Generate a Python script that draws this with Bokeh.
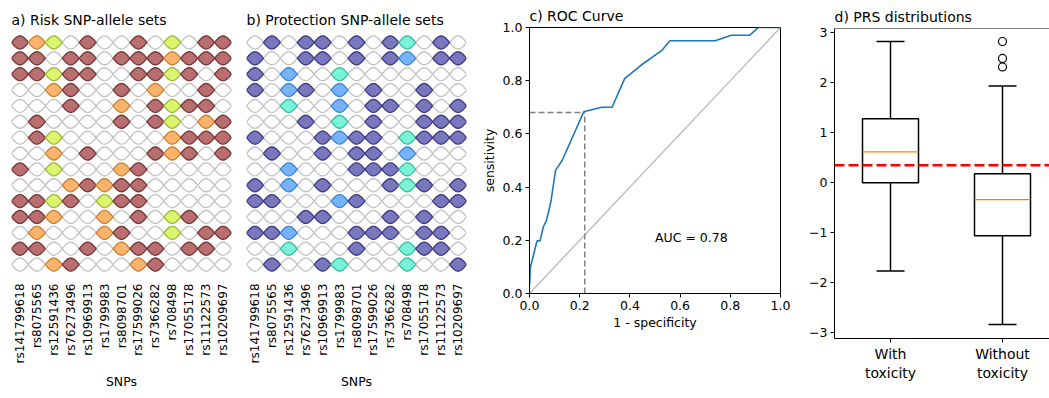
import numpy as np
from bokeh.plotting import figure
from bokeh.layouts import row
from bokeh.models import FixedTicker, Range1d, Span, Label
from bokeh.embed import file_html
from bokeh.resources import INLINE

FONT = "DejaVu Sans"

# ---------------- data ----------------
snps = ["rs141799618", "rs8075565", "rs12591436", "rs76273496", "rs10969913",
        "rs1799983", "rs8098701", "rs17599026", "rs7366282", "rs708498",
        "rs17055178", "rs11122573", "rs10209697"]

# 0 = absent, 1 = dark, 2 = middle, 3 = light category
risk_sets = [
    [1, 2, 3, 0, 1, 0, 0, 1, 0, 3, 0, 1, 1],
    [1, 1, 0, 1, 1, 0, 1, 1, 1, 2, 1, 1, 1],
    [1, 1, 3, 1, 1, 0, 0, 1, 1, 3, 1, 0, 1],
    [0, 0, 2, 1, 0, 0, 1, 0, 2, 0, 0, 1, 0],
    [0, 0, 0, 1, 0, 0, 2, 0, 1, 3, 1, 1, 0],
    [0, 1, 0, 0, 0, 0, 1, 0, 1, 3, 0, 2, 1],
    [0, 1, 3, 0, 0, 0, 0, 0, 0, 2, 1, 1, 1],
    [0, 0, 2, 0, 1, 0, 0, 0, 1, 2, 1, 0, 1],
    [1, 0, 3, 0, 0, 0, 2, 1, 0, 0, 0, 0, 0],
    [0, 0, 0, 2, 1, 2, 1, 1, 0, 0, 0, 0, 0],
    [1, 1, 3, 1, 0, 3, 1, 1, 0, 0, 0, 0, 0],
    [1, 1, 2, 0, 0, 2, 0, 1, 0, 3, 1, 0, 0],
    [0, 2, 0, 0, 0, 2, 1, 0, 0, 3, 0, 1, 1],
    [1, 1, 0, 0, 1, 0, 2, 1, 1, 0, 1, 1, 0],
    [0, 0, 2, 1, 0, 0, 0, 2, 1, 0, 0, 0, 0],
]

protection_sets = [
    [0, 1, 0, 1, 1, 0, 1, 0, 1, 3, 0, 1, 0],
    [1, 0, 0, 1, 1, 0, 1, 0, 1, 2, 0, 1, 1],
    [1, 0, 2, 0, 0, 3, 0, 0, 0, 0, 0, 0, 0],
    [1, 0, 2, 1, 0, 2, 0, 1, 0, 0, 1, 0, 0],
    [0, 0, 3, 0, 0, 2, 0, 1, 1, 0, 1, 0, 1],
    [0, 0, 0, 1, 0, 3, 0, 1, 0, 0, 1, 1, 1],
    [1, 0, 0, 0, 1, 2, 1, 1, 0, 3, 1, 1, 1],
    [0, 1, 0, 0, 1, 0, 1, 1, 0, 2, 0, 0, 0],
    [0, 0, 2, 0, 0, 0, 1, 1, 1, 3, 0, 0, 0],
    [1, 0, 2, 0, 1, 0, 0, 0, 1, 3, 1, 0, 1],
    [1, 1, 0, 0, 0, 2, 1, 0, 0, 0, 0, 1, 1],
    [0, 0, 0, 1, 1, 0, 0, 0, 1, 0, 1, 0, 0],
    [1, 1, 2, 0, 0, 0, 1, 1, 1, 0, 1, 1, 0],
    [0, 0, 3, 0, 0, 0, 1, 0, 0, 3, 1, 1, 0],
    [0, 1, 0, 0, 1, 3, 0, 0, 0, 3, 0, 0, 1],
]

risk_fill = ["#ffffff", "#b96f6f", "#fdb36c", "#dcf46e"]
risk_line = ["#c4c4c4", "#7a3838", "#c88537", "#9dbb3c"]
prot_fill = ["#ffffff", "#7a77be", "#73b4fd", "#79f4d8"]
prot_line = ["#c4c4c4", "#3f3d86", "#4285d4", "#3dbf9f"]

fpr = [0.0, 0.004, 0.03, 0.042, 0.055, 0.068, 0.085, 0.104, 0.13, 0.216,
       0.287, 0.329, 0.379, 0.444, 0.529, 0.559, 0.74, 0.804, 0.878, 0.912, 1.0]
tpr = [0.031, 0.10, 0.198, 0.198, 0.25, 0.276, 0.344, 0.464, 0.50, 0.683,
       0.70, 0.70, 0.808, 0.858, 0.915, 0.95, 0.95, 0.971, 0.971, 1.0, 1.0]
chance = [0.0, 1.0]
cut_fpr, cut_tpr = 0.22, 0.68
auc = 0.78

groups = ["With\ntoxicity", "Without\ntoxicity"]
positions = [1, 2]
whisk_lo = [-1.78, -2.85]
q1 = [-0.01, -1.07]
med = [0.61, -0.35]
q3 = [1.27, 0.17]
whisk_hi = [2.82, 1.93]
outlier_pos = [2, 2, 2]
outlier_val = [2.82, 2.48, 2.31]
prs_threshold = 0.34

H = 398

# lens shape template
t = np.linspace(-1, 1, 25)
half_h = 0.41 * np.cos(np.pi * t / 2)
lens_dx = np.concatenate([t, t[::-1]]) * 0.5
lens_dy = np.concatenate([half_h, -half_h[::-1]])


def style_title(p, standoff):
    p.title.text_font = FONT
    p.title.text_font_size = "14px"
    p.title.text_font_style = "normal"
    p.title.text_color = "black"
    p.title.align = "left"
    p.title.standoff = standoff


def grid_fig(title, sets, fills, lines, width, left):
    p = figure(width=width, height=H, x_range=Range1d(-0.5, 12.5),
               y_range=Range1d(14.5, -0.5), y_axis_location=None,
               toolbar_location=None, output_backend="svg",
               min_border_left=left, min_border_right=width - left - 220,
               min_border_top=34, min_border_bottom=126, title=title)
    p.frame_align = False
    style_title(p, 14)
    p.outline_line_color = None
    p.xgrid.grid_line_color = None
    p.ygrid.grid_line_color = None
    for pass_filled in (False, True):
        xs, ys, fc, lc = [], [], [], []
        for r, rowvals in enumerate(sets):
            for c, code in enumerate(rowvals):
                if (code > 0) != pass_filled:
                    continue
                xs.append(list(c + lens_dx))
                ys.append(list(r + lens_dy))
                fc.append(fills[code])
                lc.append(lines[code])
        p.patches(xs, ys, fill_color=fc, line_color=lc, line_width=1.4)
    ax = p.xaxis[0]
    ax.ticker = FixedTicker(ticks=list(range(len(snps))))
    ax.major_label_overrides = {i: s for i, s in enumerate(snps)}
    ax.major_label_orientation = np.pi / 2
    ax.axis_line_color = None
    ax.major_tick_line_color = None
    ax.minor_tick_line_color = None
    ax.major_tick_out = 0
    ax.major_tick_in = 0
    ax.major_label_standoff = 11
    ax.major_label_text_font = FONT
    ax.major_label_text_font_size = "12px"
    ax.major_label_text_color = "black"
    ax.axis_label = "SNPs"
    ax.axis_label_text_font = FONT
    ax.axis_label_text_font_size = "12.5px"
    ax.axis_label_text_font_style = "normal"
    ax.axis_label_text_color = "black"
    ax.axis_label_standoff = 8
    return p


pa = grid_fig("a) Risk SNP-allele sets", risk_sets, risk_fill, risk_line, 243, 11)
pb = grid_fig("b) Protection SNP-allele sets", protection_sets, prot_fill, prot_line, 235, 3)


def style_axis(ax):
    ax.axis_line_color = "black"
    ax.major_tick_line_color = "black"
    ax.minor_tick_line_color = None
    ax.major_tick_out = 4
    ax.major_tick_in = 0
    ax.major_label_standoff = 3
    ax.major_label_text_font = FONT
    ax.major_label_text_font_size = "12.5px"
    ax.major_label_text_color = "black"
    ax.axis_label_text_font = FONT
    ax.axis_label_text_font_size = "12.5px"
    ax.axis_label_text_font_style = "normal"
    ax.axis_label_text_color = "black"


# ---------------- ROC ----------------
pc = figure(width=315, height=H, x_range=Range1d(0, 1), y_range=Range1d(0, 1),
            toolbar_location=None, output_backend="svg",
            min_border_left=47, min_border_right=13, min_border_top=27,
            min_border_bottom=105, title="c) ROC Curve")
pc.frame_align = False
style_title(pc, 7)
pc.outline_line_color = "black"
pc.xgrid.grid_line_color = None
pc.ygrid.grid_line_color = None
pc.line(chance, chance, line_color="#bfbfbf", line_width=1.5)
pc.line([0, cut_fpr], [cut_tpr, cut_tpr], line_color="#808080", line_width=1.5, line_dash="6 3")
pc.line([cut_fpr, cut_fpr], [0, cut_tpr], line_color="#808080", line_width=1.5, line_dash="6 3")
pc.line(fpr, tpr, line_color="#1f77b4", line_width=1.6)
pc.add_layout(Label(x=0.5, y=0.21, text=f"AUC = {auc:.2f}", text_baseline="middle",
                    text_font=FONT, text_font_size="12.5px", text_color="black"))
ticks01 = [0.0, 0.2, 0.4, 0.6, 0.8, 1.0]
for ax in (pc.xaxis[0], pc.yaxis[0]):
    style_axis(ax)
    ax.ticker = FixedTicker(ticks=ticks01)
    ax.major_label_overrides = {v: f"{v:.1f}" for v in ticks01}
pc.xaxis[0].axis_label = "1 - specificity"
pc.xaxis[0].axis_label_standoff = 2
pc.yaxis[0].axis_label = "sensitivity"
pc.yaxis[0].axis_label_standoff = 3

# ---------------- PRS box plot ----------------
pd_ = figure(width=256, height=H, x_range=Range1d(0.5, 0.5 + 215 / 112),
             y_range=Range1d(-3.13, 3.08), toolbar_location=None, output_backend="svg",
             min_border_left=41, min_border_right=0, min_border_top=28,
             min_border_bottom=60, title="d) PRS  distributions")
pd_.frame_align = False
style_title(pd_, 8)
pd_.outline_line_color = None
pd_.xgrid.grid_line_color = None
pd_.ygrid.grid_line_color = None
pd_.add_layout(Span(location=pd_.y_range.end, dimension="width", line_color="black", line_width=1))
pos = np.array(positions, dtype=float)
pd_.segment(x0=pos, y0=q3, x1=pos, y1=whisk_hi, line_color="black", line_width=1.5)
pd_.segment(x0=pos, y0=q1, x1=pos, y1=whisk_lo, line_color="black", line_width=1.5)
pd_.segment(x0=pos - 0.125, y0=whisk_hi, x1=pos + 0.125, y1=whisk_hi, line_color="black", line_width=1.5)
pd_.segment(x0=pos - 0.125, y0=whisk_lo, x1=pos + 0.125, y1=whisk_lo, line_color="black", line_width=1.5)
pd_.vbar(x=pos, bottom=q1, top=q3, width=0.5, fill_color=None, line_color="black", line_width=1.5)
pd_.segment(x0=pos - 0.25, y0=med, x1=pos + 0.25, y1=med, line_color="#ff7f0e", line_width=1.2)
pd_.scatter(outlier_pos, outlier_val, marker="circle", size=8, fill_color=None,
            line_color="black", line_width=1.2)
pd_.add_layout(Span(location=prs_threshold, dimension="width", line_color="red",
                    line_dash="10 4", line_width=2.5))
style_axis(pd_.xaxis[0])
style_axis(pd_.yaxis[0])
pd_.xaxis[0].ticker = FixedTicker(ticks=positions)
pd_.xaxis[0].major_label_overrides = {p: g for p, g in zip(positions, groups)}
pd_.xaxis[0].major_label_text_font_size = "14px"
yt = [-3, -2, -1, 0, 1, 2, 3]
pd_.yaxis[0].ticker = FixedTicker(ticks=yt)
pd_.yaxis[0].major_label_overrides = {v: (f"\u2212{abs(v)}" if v < 0 else f"{v}") for v in yt}

layout = row(pa, pb, pc, pd_)
open("out.html", "w").write(file_html(layout, INLINE))
